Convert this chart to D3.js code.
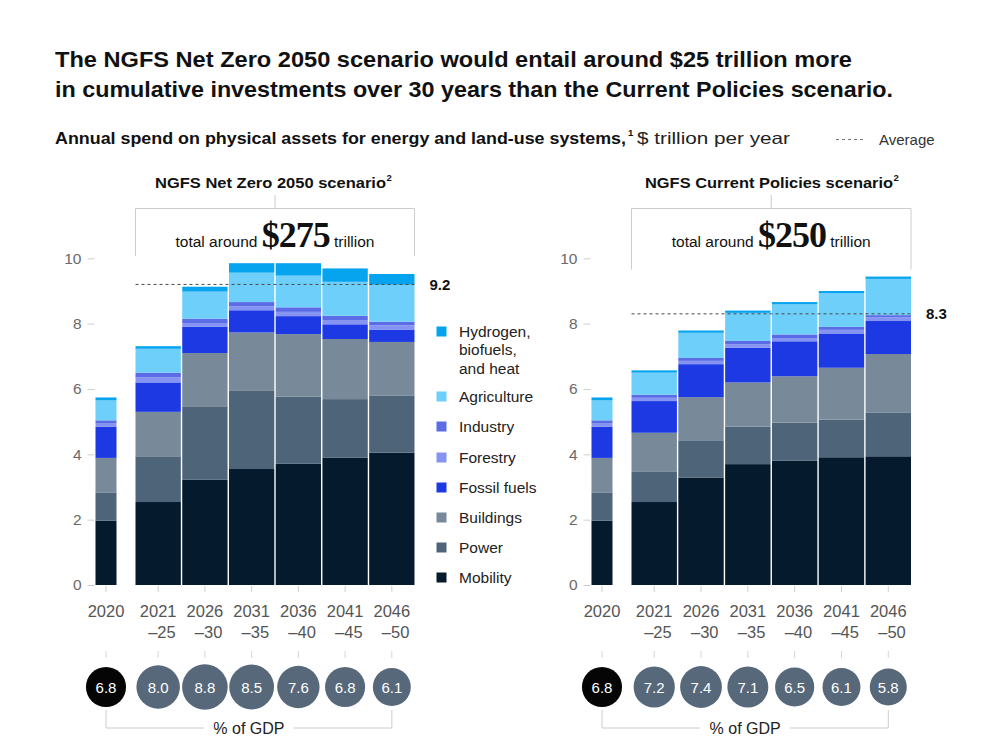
<!DOCTYPE html>
<html><head><meta charset="utf-8">
<script src="https://cdn.jsdelivr.net/npm/d3@7"></script>
<style>
body{margin:0;background:#fff;}
svg{display:block;font-family:"Liberation Sans",Arial,Helvetica,sans-serif;}
</style>
</head><body>
<svg id="c" width="1000" height="741"></svg>
<script>
// ---------- DATA ----------
const periods = ["2020","2021–25","2026–30","2031–35","2036–40","2041–45","2046–50"];
const periodLine1 = ["2020","2021","2026","2031","2036","2041","2046"];
const periodLine2 = ["","–25","–30","–35","–40","–45","–50"];
const sectorKeys = ["Mobility","Power","Buildings","Fossil fuels","Forestry","Industry","Agriculture","Hydrogen, biofuels, and heat"];
const sectorColors = ["#061a2d","#4e6479","#788a9a","#1d39e4","#8594f2","#5c6ce6","#6dcffa","#06a3ee"];
const yTicks = [0,2,4,6,8,10];

// NGFS Net Zero 2050 scenario, $ trillion per year
const nzMobility    = [1.97, 2.54, 3.22, 3.55, 3.71, 3.90, 4.05];
const nzPower       = [0.85, 1.40, 2.25, 2.39, 2.06, 1.79, 1.74];
const nzBuildings   = [1.07, 1.36, 1.63, 1.79, 1.91, 1.84, 1.65];
const nzFossil      = [0.95, 0.90, 0.80, 0.68, 0.55, 0.45, 0.38];
const nzForestry    = [0.10, 0.15, 0.12, 0.12, 0.13, 0.13, 0.13];
const nzIndustry    = [0.10, 0.15, 0.13, 0.13, 0.14, 0.13, 0.11];
const nzAgriculture = [0.61, 0.73, 0.83, 0.90, 0.97, 1.04, 1.13];
const nzHydrogen    = [0.09, 0.08, 0.15, 0.29, 0.38, 0.41, 0.33];
const nzGdp = [6.8, 8.0, 8.8, 8.5, 7.6, 6.8, 6.1];
const nzAverage = 9.2;
const nzTotal = "$275";

// NGFS Current Policies scenario, $ trillion per year
const cpMobility    = [1.97, 2.54, 3.29, 3.70, 3.81, 3.91, 3.94];
const cpPower       = [0.85, 0.94, 1.14, 1.15, 1.16, 1.15, 1.33];
const cpBuildings   = [1.07, 1.18, 1.32, 1.35, 1.42, 1.59, 1.80];
const cpFossil      = [0.95, 0.97, 1.01, 1.06, 1.07, 1.05, 1.01];
const cpForestry    = [0.10, 0.10, 0.10, 0.11, 0.10, 0.11, 0.11];
const cpIndustry    = [0.10, 0.09, 0.09, 0.10, 0.11, 0.09, 0.07];
const cpAgriculture = [0.61, 0.68, 0.77, 0.86, 0.92, 1.03, 1.11];
const cpHydrogen    = [0.09, 0.07, 0.07, 0.07, 0.07, 0.07, 0.07];
const cpGdp = [6.8, 7.2, 7.4, 7.1, 6.5, 6.1, 5.8];
const cpAverage = 8.3;
const cpTotal = "$250";

// ---------- BUILD ----------
function buildRows(arrs){
  return periods.map((p,i)=>{
    const o={period:p};
    sectorKeys.forEach((k,j)=>o[k]=arrs[j][i]);
    return o;
  });
}
const nzRows = buildRows([nzMobility,nzPower,nzBuildings,nzFossil,nzForestry,nzIndustry,nzAgriculture,nzHydrogen]);
const cpRows = buildRows([cpMobility,cpPower,cpBuildings,cpFossil,cpForestry,cpIndustry,cpAgriculture,cpHydrogen]);

const svg = d3.select("#c");
const color = d3.scaleOrdinal().domain(sectorKeys).range(sectorColors);
const y = d3.scaleLinear().domain([0,10]).range([585,258.3]);
const r = d3.scaleSqrt().domain([0,8.8]).range([0,22.8]);
const stack = d3.stack().keys(sectorKeys);

// Titles
svg.append("text").attr("x",55).attr("y",67).attr("font-size",22.5).attr("font-weight","bold").attr("fill","#111")
  .attr("textLength",797).attr("lengthAdjust","spacingAndGlyphs")
  .text("The NGFS Net Zero 2050 scenario would entail around $25 trillion more");
svg.append("text").attr("x",55).attr("y",97).attr("font-size",22.5).attr("font-weight","bold").attr("fill","#111")
  .attr("textLength",838).attr("lengthAdjust","spacingAndGlyphs")
  .text("in cumulative investments over 30 years than the Current Policies scenario.");
svg.append("text").attr("x",55).attr("y",144).attr("font-size",16.5).attr("font-weight","bold").attr("fill","#111")
  .attr("textLength",571).attr("lengthAdjust","spacingAndGlyphs")
  .text("Annual spend on physical assets for energy and land-use systems,");
svg.append("text").attr("x",628).attr("y",136).attr("font-size",9.5).attr("font-weight","bold").attr("fill","#111").text("1");
svg.append("text").attr("x",637).attr("y",144).attr("font-size",16.5).attr("fill","#222")
  .attr("textLength",153).attr("lengthAdjust","spacingAndGlyphs")
  .text("$ trillion per year");
// Average legend
svg.append("line").attr("x1",836).attr("x2",866).attr("y1",139.5).attr("y2",139.5)
  .attr("stroke","#777").attr("stroke-dasharray","3,3");
svg.append("text").attr("x",879).attr("y",145).attr("font-size",15).attr("fill","#333").text("Average");

const panels = [
  {title:"NGFS Net Zero 2050 scenario", tx:155, tl:231, rows:nzRows, gdp:nzGdp, avg:nzAverage, total:nzTotal, x0:135.5, x1:414.5},
  {title:"NGFS Current Policies scenario", tx:645, tl:248, rows:cpRows, gdp:cpGdp, avg:cpAverage, total:cpTotal, x0:631.5, x1:911}
];
const firstW = 21, firstGap = 19;

panels.forEach(P=>{
  const g = svg.append("g");
  const xb = d3.scaleBand().domain(periods.slice(1)).range([P.x0,P.x1]).paddingInner(0.03);
  const bx = p => p===periods[0] ? P.x0 - firstGap - firstW : xb(p);
  const bw = p => p===periods[0] ? firstW : xb.bandwidth();
  const cx = p => bx(p) + bw(p)/2;
  const axisX = bx(periods[0]) - 1;
  const mid = (P.x0+P.x1)/2;

  // panel title
  g.append("text").attr("x",P.tx).attr("y",188).attr("font-size",15.5).attr("font-weight","bold").attr("fill","#111")
    .attr("textLength",P.tl).attr("lengthAdjust","spacingAndGlyphs").text(P.title);
  g.append("text").attr("x",P.tx+P.tl+0.5).attr("y",181).attr("font-size",9.5).attr("font-weight","bold").attr("fill","#111").text("2");

  // y axis
  const ya = g.append("g").attr("transform",`translate(${axisX},0)`)
    .call(d3.axisLeft(y).tickValues(yTicks).tickSize(7).tickPadding(6).tickFormat(d3.format("d")));
  ya.select(".domain").remove();
  ya.selectAll(".tick line").attr("stroke","#cfcfcf");
  ya.selectAll(".tick text").attr("font-size",15.5).attr("fill","#6a6a6a").attr("font-family","Liberation Sans, Arial, sans-serif");

  // bars
  const series = stack(P.rows);
  g.append("g").selectAll("g").data(series).join("g").attr("fill",d=>color(d.key))
    .selectAll("rect").data(d=>d).join("rect")
    .attr("x",d=>bx(d.data.period)).attr("width",d=>bw(d.data.period))
    .attr("y",d=>y(d[1])).attr("height",d=>y(d[0])-y(d[1]));

  // bracket above
  const maxTot = d3.max(series[series.length-1], d=>d[1]);
  const bTop = 208.5, bBot = y(maxTot)-7;
  g.append("path").attr("d",`M${P.x0},${bBot}V${bTop}H${P.x1}V${bBot}M${mid},${bTop}V195`)
    .attr("fill","none").attr("stroke","#cccccc");
  const tt = g.append("text").attr("x",mid).attr("y",247).attr("text-anchor","middle").attr("fill","#111");
  tt.append("tspan").attr("font-size",15.5).text("total around ");
  tt.append("tspan").attr("font-size",36).attr("font-weight","bold").attr("font-family","Liberation Serif, Times New Roman, serif").attr("letter-spacing","-1").text(P.total);
  tt.append("tspan").attr("font-size",15.5).text(" trillion");

  // average line
  g.append("line").attr("x1",P.x0).attr("x2",P.x1).attr("y1",y(P.avg)).attr("y2",y(P.avg))
    .attr("stroke","#4a4a4a").attr("stroke-dasharray","3,3").attr("stroke-width",1);
  g.append("text").attr("x",P.x1+15).attr("y",y(P.avg)+5.5).attr("font-size",15).attr("font-weight","bold").attr("fill","#111")
    .text(d3.format(".1f")(P.avg));

  // x ticks + labels
  g.selectAll(".xt").data(periods).join("line").attr("class","xt")
    .attr("x1",cx).attr("x2",cx).attr("y1",586).attr("y2",592).attr("stroke","#cfcfcf");
  g.selectAll(".xl1").data(periods).join("text").attr("class","xl1")
    .attr("x",p=>cx(p)).attr("y",617).attr("text-anchor","middle").attr("font-size",16.5).attr("fill","#555")
    .text((p,i)=>periodLine1[i]);
  g.selectAll(".xl2").data(periods).join("text").attr("class","xl2")
    .attr("x",p=>cx(p)+17.5).attr("y",638).attr("text-anchor","end").attr("font-size",16.5).attr("fill","#555")
    .text((p,i)=>periodLine2[i]);

  // GDP circles
  g.selectAll(".ct").data(periods).join("line").attr("class","ct")
    .attr("x1",cx).attr("x2",cx).attr("y1",651).attr("y2",658).attr("stroke","#d5d5d5");
  g.selectAll(".gc").data(periods).join("circle").attr("class","gc")
    .attr("cx",cx).attr("cy",687).attr("r",(p,i)=>r(P.gdp[i]))
    .attr("fill",(p,i)=>i===0?"#050505":"#56687a");
  g.selectAll(".gt").data(periods).join("text").attr("class","gt")
    .attr("x",cx).attr("y",692.5).attr("text-anchor","middle").attr("font-size",15).attr("fill","#fff")
    .text((p,i)=>d3.format(".1f")(P.gdp[i]));
  const gx0 = cx(periods[0]), gx1 = cx(periods[periods.length-1]), gm=(gx0+gx1)/2;
  g.append("path").attr("d",`M${gx0},710V728H${gm-45}M${gm+45},728H${gx1}V710`).attr("fill","none").attr("stroke","#cccccc");
  g.append("text").attr("x",gm).attr("y",734).attr("text-anchor","middle").attr("font-size",16).attr("fill","#222").text("% of GDP");
});

// Legend
const legendItems = sectorKeys.slice().reverse();
const legendLines = {"Hydrogen, biofuels, and heat":["Hydrogen,","biofuels,","and heat"]};
const legendBase = [337, 402, 432, 463, 493, 523, 553, 583];
const lg = svg.append("g");
legendItems.forEach((k,i)=>{
  const b = legendBase[i];
  lg.append("rect").attr("x",436.5).attr("y",b-10.5).attr("width",10).attr("height",10).attr("fill",color(k));
  const lines = legendLines[k] || [k];
  lines.forEach((t,j)=>{
    lg.append("text").attr("x",459).attr("y",b+j*18.3).attr("font-size",15.5).attr("fill","#222").text(t);
  });
});
</script>
</body></html>
